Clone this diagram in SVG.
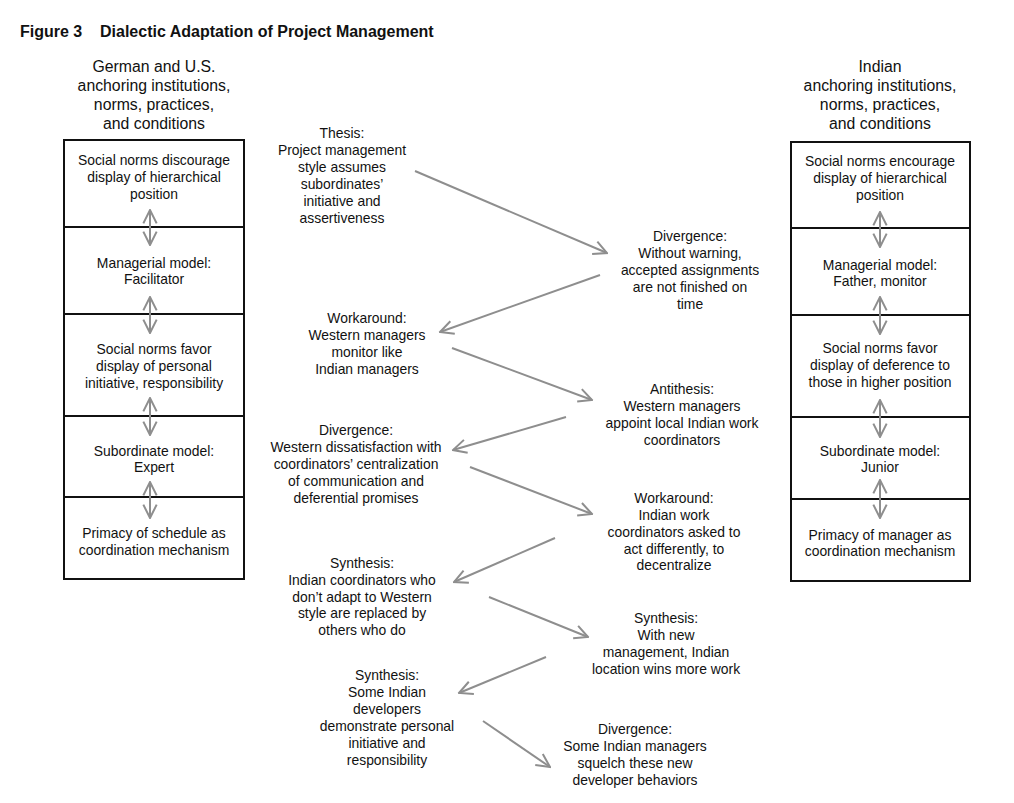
<svg xmlns="http://www.w3.org/2000/svg" width="1014" height="803" viewBox="0 0 1014 803">
<style>
text{font-family:"Liberation Sans",Arial,sans-serif;fill:#111;text-anchor:middle}
.title{font-weight:bold;font-size:16px;text-anchor:start}
.hd{font-size:15.8px}
.t{font-size:13.9px}
.box{fill:#fff;stroke:#111;stroke-width:2}
.arr{stroke:#8e8e8e;stroke-width:2;fill:none}
</style>
<defs>
<marker id="ah" viewBox="0 0 12 12" refX="11" refY="6" markerWidth="16" markerHeight="16" markerUnits="userSpaceOnUse" orient="auto-start-reverse">
<path d="M1,1 L11,6 L1,11" fill="none" stroke="#8e8e8e" stroke-width="1.5"/>
</marker>
</defs>
<text class="title" x="20" y="37">Figure 3</text>
<text class="title" x="100" y="37">Dialectic Adaptation of Project Management</text>

<g id="header-left">
<text class="hd" x="154" y="72">German and U.S.</text>
<text class="hd" x="154" y="91">anchoring institutions,</text>
<text class="hd" x="154" y="110">norms, practices,</text>
<text class="hd" x="154" y="129">and conditions</text>
</g>
<g id="header-right">
<text class="hd" x="880" y="72">Indian</text>
<text class="hd" x="880" y="91">anchoring institutions,</text>
<text class="hd" x="880" y="110">norms, practices,</text>
<text class="hd" x="880" y="129">and conditions</text>
</g>

<g id="L1"><rect class="box" x="64" y="140" width="180" height="87"/>
<text class="t" x="154" y="165">Social norms discourage</text><text class="t" x="154" y="182">display of hierarchical</text><text class="t" x="154" y="199">position</text></g>
<g id="L2"><rect class="box" x="64" y="227" width="180" height="87"/>
<text class="t" x="154" y="268">Managerial model:</text><text class="t" x="154" y="284">Facilitator</text></g>
<g id="L3"><rect class="box" x="64" y="314" width="180" height="102"/>
<text class="t" x="154" y="354">Social norms favor</text><text class="t" x="154" y="371">display of personal</text><text class="t" x="154" y="388">initiative, responsibility</text></g>
<g id="L4"><rect class="box" x="64" y="416" width="180" height="81"/>
<text class="t" x="154" y="456">Subordinate model:</text><text class="t" x="154" y="472">Expert</text></g>
<g id="L5"><rect class="box" x="64" y="497" width="180" height="82"/>
<text class="t" x="154" y="538">Primacy of schedule as</text><text class="t" x="154" y="555">coordination mechanism</text></g>

<g id="R1"><rect class="box" x="791" y="142" width="179" height="86"/>
<text class="t" x="880" y="166">Social norms encourage</text><text class="t" x="880" y="183">display of hierarchical</text><text class="t" x="880" y="200">position</text></g>
<g id="R2"><rect class="box" x="791" y="228" width="179" height="87"/>
<text class="t" x="880" y="270">Managerial model:</text><text class="t" x="880" y="286">Father, monitor</text></g>
<g id="R3"><rect class="box" x="791" y="315" width="179" height="102"/>
<text class="t" x="880" y="353">Social norms favor</text><text class="t" x="880" y="370">display of deference to</text><text class="t" x="880" y="387">those in higher position</text></g>
<g id="R4"><rect class="box" x="791" y="417" width="179" height="82"/>
<text class="t" x="880" y="456">Subordinate model:</text><text class="t" x="880" y="472">Junior</text></g>
<g id="R5"><rect class="box" x="791" y="499" width="179" height="82"/>
<text class="t" x="880" y="540">Primacy of manager as</text><text class="t" x="880" y="556">coordination mechanism</text></g>

<g id="thesis"><text class="t" x="342" y="138">Thesis:</text><text class="t" x="342" y="155">Project management</text><text class="t" x="342" y="172">style assumes</text><text class="t" x="342" y="189">subordinates’</text><text class="t" x="342" y="206">initiative and</text><text class="t" x="342" y="223">assertiveness</text></g>
<g id="div1"><text class="t" x="690" y="241">Divergence:</text><text class="t" x="690" y="258">Without warning,</text><text class="t" x="690" y="275">accepted assignments</text><text class="t" x="690" y="292">are not finished on</text><text class="t" x="690" y="309">time</text></g>
<g id="work1"><text class="t" x="367" y="323">Workaround:</text><text class="t" x="367" y="340">Western managers</text><text class="t" x="367" y="357">monitor like</text><text class="t" x="367" y="374">Indian managers</text></g>
<g id="anti"><text class="t" x="682" y="394">Antithesis:</text><text class="t" x="682" y="411">Western managers</text><text class="t" x="682" y="428">appoint local Indian work</text><text class="t" x="682" y="445">coordinators</text></g>
<g id="div2"><text class="t" x="356" y="435">Divergence:</text><text class="t" x="356" y="452">Western dissatisfaction with</text><text class="t" x="356" y="469">coordinators’ centralization</text><text class="t" x="356" y="486">of communication and</text><text class="t" x="356" y="503">deferential promises</text></g>
<g id="work2"><text class="t" x="674" y="503">Workaround:</text><text class="t" x="674" y="520">Indian work</text><text class="t" x="674" y="537">coordinators asked to</text><text class="t" x="674" y="554">act differently, to</text><text class="t" x="674" y="570">decentralize</text></g>
<g id="syn1"><text class="t" x="362" y="568">Synthesis:</text><text class="t" x="362" y="585">Indian coordinators who</text><text class="t" x="362" y="602">don’t adapt to Western</text><text class="t" x="362" y="618">style are replaced by</text><text class="t" x="362" y="635">others who do</text></g>
<g id="syn2"><text class="t" x="666" y="623">Synthesis:</text><text class="t" x="666" y="640">With new</text><text class="t" x="666" y="657">management, Indian</text><text class="t" x="666" y="674">location wins more work</text></g>
<g id="syn3"><text class="t" x="387" y="680">Synthesis:</text><text class="t" x="387" y="697">Some Indian</text><text class="t" x="387" y="714">developers</text><text class="t" x="387" y="731">demonstrate personal</text><text class="t" x="387" y="748">initiative and</text><text class="t" x="387" y="765">responsibility</text></g>
<g id="div3"><text class="t" x="635" y="734">Divergence:</text><text class="t" x="635" y="751">Some Indian managers</text><text class="t" x="635" y="768">squelch these new</text><text class="t" x="635" y="785">developer behaviors</text></g>

<g id="connectors">
<line class="arr" x1="150" y1="210" x2="150" y2="245" marker-start="url(#ah)" marker-end="url(#ah)"/>
<line class="arr" x1="150" y1="297" x2="150" y2="333" marker-start="url(#ah)" marker-end="url(#ah)"/>
<line class="arr" x1="150" y1="398" x2="150" y2="435" marker-start="url(#ah)" marker-end="url(#ah)"/>
<line class="arr" x1="150" y1="482" x2="150" y2="518" marker-start="url(#ah)" marker-end="url(#ah)"/>
<line class="arr" x1="880" y1="212" x2="880" y2="247" marker-start="url(#ah)" marker-end="url(#ah)"/>
<line class="arr" x1="880" y1="297" x2="880" y2="334" marker-start="url(#ah)" marker-end="url(#ah)"/>
<line class="arr" x1="880" y1="400" x2="880" y2="437" marker-start="url(#ah)" marker-end="url(#ah)"/>
<line class="arr" x1="880" y1="480" x2="880" y2="518" marker-start="url(#ah)" marker-end="url(#ah)"/>
<line class="arr" x1="415" y1="171" x2="607" y2="253" marker-end="url(#ah)"/>
<line class="arr" x1="600" y1="275" x2="440" y2="332" marker-end="url(#ah)"/>
<line class="arr" x1="452" y1="348" x2="592" y2="400" marker-end="url(#ah)"/>
<line class="arr" x1="566" y1="417" x2="453" y2="450" marker-end="url(#ah)"/>
<line class="arr" x1="470" y1="467" x2="592" y2="514" marker-end="url(#ah)"/>
<line class="arr" x1="555" y1="538" x2="454" y2="582" marker-end="url(#ah)"/>
<line class="arr" x1="489" y1="597" x2="588" y2="637" marker-end="url(#ah)"/>
<line class="arr" x1="546" y1="657" x2="459" y2="693" marker-end="url(#ah)"/>
<line class="arr" x1="483" y1="721" x2="550" y2="767" marker-end="url(#ah)"/>
</g>
</svg>
